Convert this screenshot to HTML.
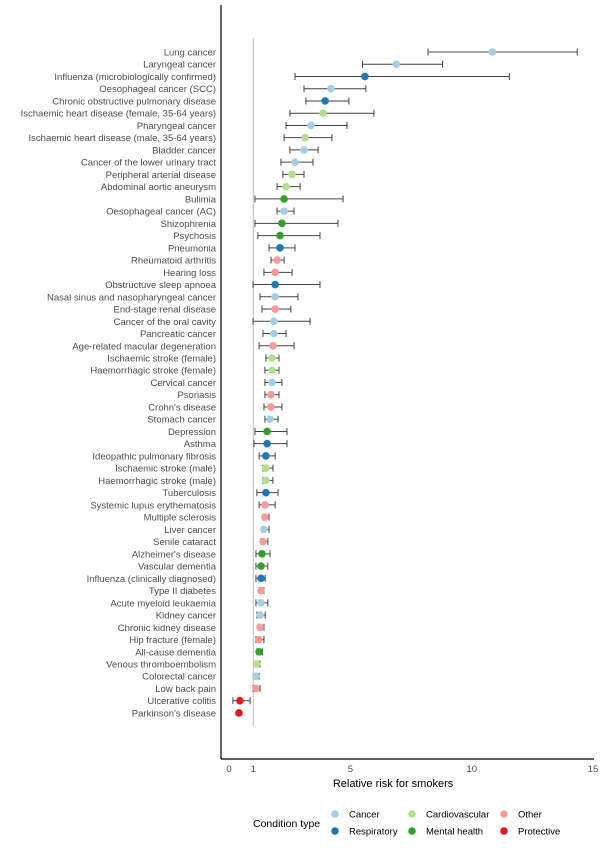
<!DOCTYPE html>
<html><head><meta charset="utf-8"><style>
body{margin:0;background:#fff}
svg{display:block;font-family:"Liberation Sans",sans-serif}
</style></head><body>
<svg id="chart" width="600" height="850"></svg>
<script>
const labels=["Lung cancer","Laryngeal cancer","Influenza (microbiologically confirmed)","Oesophageal cancer (SCC)","Chronic obstructive pulmonary disease","Ischaemic heart disease (female, 35-64 years)","Pharyngeal cancer","Ischaemic heart disease (male, 35-64 years)","Bladder cancer","Cancer of the lower urinary tract","Peripheral arterial disease","Abdominal aortic aneurysm","Bulimia","Oesophageal cancer (AC)","Shizophrenia","Psychosis","Pneumonia","Rheumatoid arthritis","Hearing loss","Obstructuve sleep apnoea","Nasal sinus and nasopharyngeal cancer","End-stage renal disease","Cancer of the oral cavity","Pancreatic cancer","Age-related macular degeneration","Ischaemic stroke (female)","Haemorrhagic stroke (female)","Cervical cancer","Psoriasis","Crohn's disease","Stomach cancer","Depression","Asthma","Ideopathic pulmonary fibrosis","Ischaemic stroke (male)","Haemorrhagic stroke (male)","Tuberculosis","Systemic lupus erythematosis","Multiple sclerosis","Liver cancer","Senile cataract","Alzheimer's disease","Vascular dementia","Influenza (clinically diagnosed)","Type II diabetes","Acute myeloid leukaemia","Kidney cancer","Chronic kidney disease","Hip fracture (female)","All-cause dementia","Venous thromboembolism","Colorectal cancer","Low back pain","Ulcerative colitis","Parkinson's disease"];
const types=["C","C","R","C","R","V","C","V","C","C","V","V","M","C","M","M","R","O","O","R","C","O","C","C","O","V","V","C","O","O","C","M","R","R","V","V","R","O","O","C","O","M","M","R","O","C","C","O","O","M","V","C","O","P","P"];
const rr=[10.85,6.9,5.6,4.2,3.96,3.87,3.38,3.13,3.09,2.72,2.6,2.35,2.27,2.27,2.18,2.1,2.1,1.98,1.9,1.9,1.9,1.9,1.85,1.85,1.81,1.77,1.77,1.77,1.73,1.73,1.69,1.57,1.57,1.52,1.52,1.52,1.52,1.48,1.48,1.44,1.4,1.36,1.32,1.32,1.32,1.32,1.28,1.28,1.24,1.24,1.15,1.11,1.11,0.45,0.41];
const lo=[8.2,5.5,2.72,3.09,3.17,2.51,2.35,2.27,2.51,2.14,2.22,1.98,1.07,1.98,1.07,1.19,1.65,1.73,1.44,0.99,1.28,1.36,0.99,1.4,1.24,1.52,1.48,1.48,1.48,1.44,1.48,1.07,1.03,1.24,1.4,1.4,1.15,1.24,1.4,1.36,1.32,1.11,1.11,1.11,1.24,1.11,1.15,1.2,1.11,1.15,1.07,1.07,0.99,0.16,0.37];
const hi=[14.35,8.8,11.55,5.64,4.94,5.97,4.86,4.24,3.67,3.46,3.09,2.93,4.7,2.68,4.49,3.75,2.72,2.27,2.6,3.75,2.84,2.55,3.34,2.35,2.68,2.06,2.06,2.18,2.06,2.18,2.02,2.39,2.39,1.9,1.81,1.81,2.02,1.9,1.65,1.65,1.6,1.69,1.6,1.49,1.44,1.6,1.49,1.44,1.44,1.38,1.28,1.24,1.28,0.87,0.45];
const typeNames={C:"Cancer",R:"Respiratory",V:"Cardiovascular",M:"Mental health",O:"Other",P:"Protective"};
const colors={C:"#a6cee3",R:"#1f78b4",V:"#b2df8a",M:"#33a02c",O:"#fb9a99",P:"#e31a1c"};
const ticks=[0,1,5,10,15];
const NS="http://www.w3.org/2000/svg";
const svg=document.getElementById('chart');
const x=v=>229+v*24.27;
const y=i=>52+i*12.24;
function mk(t,a,p){const e=document.createElementNS(NS,t);for(const k in a)e.setAttribute(k,a[k]);(p||svg).appendChild(e);return e;}
// reference line
const ref=mk('line',{x1:x(1),x2:x(1),y1:38,y2:726,stroke:'#bdbdbd','stroke-width':1});


// axes
const ya=mk('line',{x1:221,x2:221,y1:5,y2:759,stroke:'#000','stroke-width':1.2});


const xa=mk('line',{x1:221,x2:594,y1:759,y2:759,stroke:'#000','stroke-width':1.2});


ticks.forEach(t=>{
  const tl=mk('text',{x:x(t),y:772,'text-anchor':'middle','font-size':9.5,fill:'#4d4d4d'});
  tl.textContent=t;
  
  
});
const xt=mk('text',{x:(x(0)+x(15))/2-18,y:787,'text-anchor':'middle','font-size':11,fill:'#000'});
xt.textContent='Relative risk for smokers';


labels.forEach((l,i)=>{
  const yy=y(i);
  const t=mk('text',{x:216,y:yy+3.5,'text-anchor':'end','font-size':9.5,fill:'#4d4d4d'});
  t.textContent=l;
  
  
  const g=mk('g',{});
  
  
  const st={stroke:'#444','stroke-width':1};
  mk('line',Object.assign({x1:x(lo[i]),x2:x(hi[i]),y1:yy,y2:yy},st),g);
  mk('line',Object.assign({x1:x(lo[i]),x2:x(lo[i]),y1:yy-3.5,y2:yy+3.5},st),g);
  mk('line',Object.assign({x1:x(hi[i]),x2:x(hi[i]),y1:yy-3.5,y2:yy+3.5},st),g);
  const c=mk('circle',{cx:x(rr[i]),cy:yy,r:3.8,fill:colors[types[i]]},g);
  
  
});
// legend
const lt=mk('text',{x:253,y:827,'font-size':10.5,fill:'#000'});
lt.textContent='Condition type';


const legOrder=[["C",335,814],["R",335,831],["V",412,814],["M",412,831],["O",504,814],["P",504,831]];
legOrder.forEach(([k,lx,ly])=>{
  const g=mk('g',{});
  
  
  mk('circle',{cx:lx,cy:ly,r:3.8,fill:colors[k]},g);
  const t=mk('text',{x:lx+14,y:ly+3.5,'font-size':9.5,fill:'#000'},g);
  t.textContent=typeNames[k];
});
</script>
</body></html>
